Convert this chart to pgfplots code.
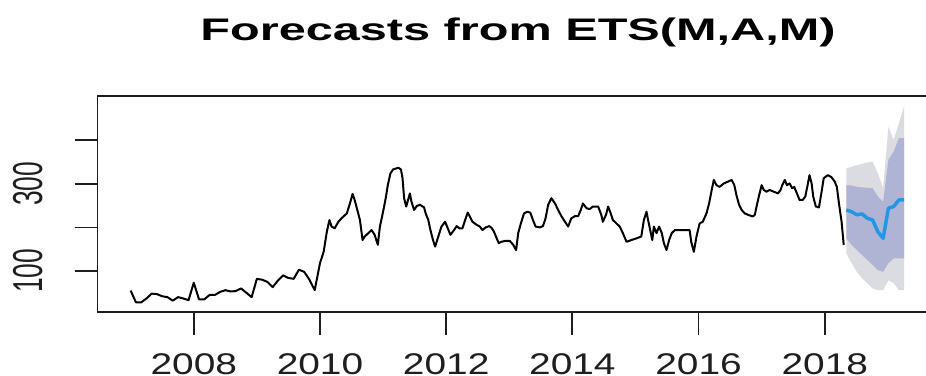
\documentclass[border=0pt]{standalone}
\usepackage{fontspec}
\setmainfont{Liberation Sans}
\newfontfamily\xfont{Liberation Sans}[FakeStretch=1.3]
\newfontfamily\yfont{Liberation Sans}[FakeStretch=0.63]
\newfontfamily\tfont{Liberation Sans Bold}[FakeStretch=1.56]
\usepackage{pgfplots}
\pgfplotsset{compat=1.18}
\definecolor{fcblue}{HTML}{2297E6}
\definecolor{bandA}{RGB}{219,219,226}
\definecolor{bandB}{RGB}{176,180,212}
\definecolor{axcol}{RGB}{30,30,30}
\begin{document}
\begin{tikzpicture}
\path[use as bounding box] (0,0) rectangle (926bp,376bp);
\clip (0,0) rectangle (926bp,376bp);
\begin{axis}[
  at={(97.5bp,64.3bp)}, anchor=south west,
  scale only axis, width=862.4bp, height=215.7bp,
  xmin=-6.31, xmax=157.7, ymin=6.6, ymax=501.6,
  axis line style={line width=1.8bp, color=axcol},
  xtick={12,36,60,84,108,132}, xticklabels={2008,2010,2012,2014,2016,2018},
  ytick={100,200,300,400}, yticklabels={100,,300,},
  xtick pos=left, ytick pos=left, tick align=outside,
  major tick length=23bp, tick style={line width=1.8bp, color=axcol},
  xticklabel style={font=\xfont\fontsize{30}{36}\selectfont, anchor=base, inner sep=0pt, yshift=-39.5bp, text=axcol},
  yticklabel style={font=\yfont\fontsize{42}{48}\selectfont, inner sep=0pt, xshift=-31.8bp, rotate=90, anchor=base, text=axcol},
  title={Forecasts from ETS(M,A,M)},
  title style={font=\tfont\fontsize{31.3}{36}\selectfont, at={(axis description cs:0.4876,1)}, anchor=base, yshift=49.3bp},
]
% 95% interval
\addplot[fill=bandA, draw=none] coordinates {
(136.1,336)(137.1,339)(138.1,343)(139.1,346)(140.1,349)(141.1,351)(142.1,324)(143.1,290)(144.1,431)(145.1,401)(146.1,439)(147.1,479)
(147.1,56)(146.1,56)(145.1,72)(144.1,79)(143.1,56)(142.1,56)(141.1,60)(140.1,72)(139.1,83)(138.1,98)(137.1,118)(136.1,141)
} -- cycle;
% 80% interval
\addplot[fill=bandB, draw=none] coordinates {
(136.1,297)(137.1,296)(138.1,293)(139.1,292)(140.1,291)(141.1,290)(142.1,271)(143.1,259)(144.1,355)(145.1,374)(146.1,405)(147.1,405)
(147.1,129)(146.1,129)(145.1,129)(144.1,118)(143.1,98)(142.1,102)(141.1,114)(140.1,125)(139.1,137)(138.1,148)(137.1,160)(136.1,175)
} -- cycle;
% observed series
\addplot[black, line width=2bp, line join=round] coordinates {
(0,55)(1,28)(2,28)(3,37)(4,48)(5,47)(6,42)(7,40)(8,32)(9,40)(10,37)(11,33)(12,73)(13,35)(14,35)(15,45)(16,45)(17,52)(18,56)(19,53)(20,54)(21,60)(22,50)(23,40)(24,82)(25,80)(26,75)(27,63)(28,78)(29,90)(30,84)(31,82)(32,103)(33,98)(34,80)(35,56)(36,118)
(36.7,144)(37.3,190)(37.8,217)(38.2,202)(38.8,198)(39.5,213)(40.1,221)(41.1,232)(41.7,255)(42.2,277)(42.6,263)(43.1,240)(43.6,217)(44.1,171)(44.5,179)(45.2,187)(45.8,194)(46.4,183)(47.0,160)(47.4,202)(48.0,236)(48.5,267)(48.9,297)(49.4,324)(49.9,333)(50.9,337)(51.4,333)(51.7,313)(52.0,267)(52.4,248)(52.8,265)(53.1,278)(53.4,259)(53.9,240)(54.4,249)(55.0,252)(55.8,246)(56.1,232)(56.6,217)(57.0,194)(57.5,171)(57.9,156)(58.5,179)(59.1,202)(59.8,213)(60.3,198)(60.8,183)(61.5,194)(62.0,203)(62.5,198)(63.1,198)(63.6,217)(64.1,234)(64.5,225)(65.0,213)(65.8,206)(66.4,202)(66.9,194)(67.5,200)(68.2,203)(68.7,198)(69.1,190)(69.6,175)(70.0,164)(70.5,167)(71.2,169)(72.1,169)(72.7,161)(73.3,148)(73.7,187)(74.2,209)(74.8,232)(75.4,236)(76.0,234)(76.5,217)(77.0,202)(77.8,200)(78.4,203)(78.9,221)(79.4,252)(80.0,267)
(80.7,255)(81.3,240)(81.9,226)(82.6,213)(83.2,202)(83.8,221)(84.5,226)(85.1,226)(85.6,240)(86.0,255)(86.7,244)(87.3,242)(87.9,248)(88.9,248)(89.5,229)(89.8,213)(90.4,229)(90.8,248)(91.3,232)(91.7,217)(92.4,209)(93.0,202)(93.6,187)(94.3,167)(95.2,171)(96.2,175)(97.1,179)(97.6,217)(98.1,236)(98.4,217)(98.8,194)(99.2,171)(99.5,202)(100.0,187)(100.5,202)(101.0,187)(101.4,164)(101.9,148)(102.4,171)(102.9,187)(103.5,194)(104.4,194)(105.4,194)(106.3,194)(106.6,167)(107.1,144)(107.6,179)(108.2,209)
(108.8,213)(109.5,232)(110.0,255)(110.5,286)(110.9,309)(111.4,297)(112.0,293)(112.8,301)(113.6,305)(114.3,309)(114.8,297)(115.2,274)(115.7,252)(116.2,240)(116.8,232)(117.4,229)(118.3,225)(118.7,229)(119.1,252)(119.6,278)(120.0,297)(120.4,286)(120.9,282)(121.5,286)(122.3,282)(123.1,278)(123.6,286)(123.9,297)(124.4,309)(124.8,297)(125.3,301)(125.8,290)(126.2,293)(126.7,278)(127.2,263)(127.8,263)(128.3,271)(128.8,301)(129.1,320)(129.5,301)(129.8,271)(130.3,248)(130.9,246)(131.4,282)(131.8,313)(132.6,320)(133.3,315)(133.9,305)(134.3,293)(134.7,255)(135.2,213)(135.6,160)
};
% point forecast
\addplot[fcblue, line width=3.5bp, line join=round] coordinates {
(136.1,240)(137.1,236)(138.1,229)(139.1,231)(140.1,221)(141.1,217)(142.1,190)(143.1,175)(144.1,244)(145.1,248)(146.1,263)(147.1,263)
};
\end{axis}
\end{tikzpicture}
\end{document}
